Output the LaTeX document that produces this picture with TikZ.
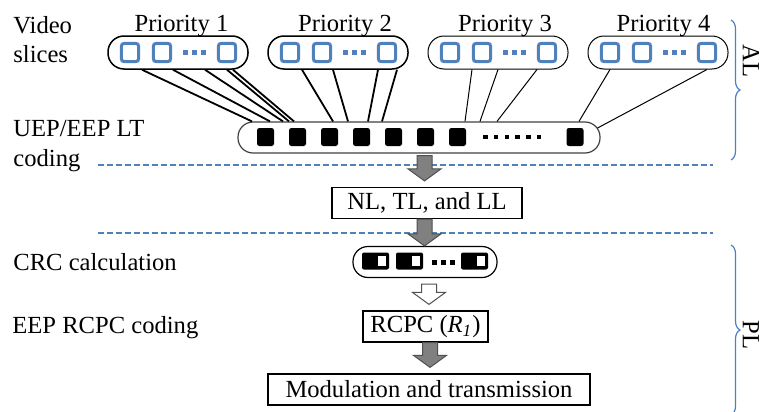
\documentclass[tikz,border=0pt]{standalone}
\usepackage{fontspec}
\setmainfont{Liberation Serif}
\usetikzlibrary{calc,decorations.pathreplacing}
\definecolor{sliceblue}{RGB}{79,129,189}
\definecolor{arrgray}{RGB}{128,128,128}
\definecolor{arrline}{RGB}{80,80,80}
\tikzset{
  group/.style={draw, rounded corners=8pt, minimum width=70pt, minimum height=16.5pt, inner sep=0pt},
  slice/.style={draw=sliceblue, line width=1.5pt, rounded corners=1.5pt, minimum width=8.7pt, minimum height=9.2pt, inner sep=0pt},
  slicedot/.style={fill=sliceblue, minimum size=2.5pt, inner sep=0pt},
  pkt/.style={fill=black, rounded corners=1.2pt, minimum width=8.5pt, minimum height=9pt, inner sep=0pt},
  pktdot/.style={fill=black, minimum size=2.2pt, inner sep=0pt},
  crcpkt/.style={fill=black, rounded corners=1pt, minimum width=13.5pt, minimum height=8.5pt, inner sep=0pt},
  crcbit/.style={fill=white, minimum width=4pt, minimum height=5pt, inner sep=0pt},
  box/.style={draw, line width=0.6pt, minimum height=15.5pt, inner sep=0pt},
  rbox/.style={draw, line width=0.6pt, rounded corners=7.5pt, minimum height=15.5pt, inner sep=0pt},
  conn/.style={line width=0.5pt},
  hiconn/.style={line width=0.9pt},
  layerline/.style={sliceblue, line width=0.75pt, dash pattern=on 3pt off 1.5pt},
  layerbrace/.style={sliceblue, line width=0.6pt, decorate, decoration={brace, amplitude=4.5pt}},
  lbl/.style={inner sep=0pt, align=left}
}
\newcommand{\barrow}[3][arrgray]{%
  \filldraw[fill=#1, draw=arrline, line width=0.5pt]
    ($(#2)+(-7.5,0)$) -- ($(#3)+(-7.5,-12)$) -- ($(#3)+(-16.5,-12)$) -- (#3)
    -- ($(#3)+(16.5,-12)$) -- ($(#3)+(7.5,-12)$) -- ($(#2)+(7.5,0)$) -- cycle;}
\begin{document}
\begin{tikzpicture}[x=0.5pt, y=-0.5pt, font=\fontsize{12.3}{14.75}\selectfont]
\useasboundingbox (0,0) rectangle (760,412);

\node[lbl, anchor=north west] (lvideo) at (13,16) {Video\\slices};
\node[lbl, anchor=north west] (luep) at (13,120) {UEP/EEP LT\\coding};
\node[lbl, anchor=base west] (lcrc) at (13,270) {CRC calculation};
\node[lbl, anchor=base west] (lrcpc) at (12,333) {EEP RCPC coding};

\foreach \g/\cx/\tx/\lw in {1/178/181.5/0.75pt, 2/338/345/0.75pt, 3/498/505/0.5pt, 4/658/663.5/0.5pt}{
  \node[anchor=base] (prio\g) at (\tx,32) {Priority \g};
  \node[group, line width=\lw] (g\g) at (\cx,52.5) {};
  \node[slice] (g\g-1) at ($(g\g.center)+(-48,0)$) {};
  \node[slice] (g\g-2) at ($(g\g.center)+(-16,0)$) {};
  \node[slice] (g\g-n) at ($(g\g.center)+(49,0)$) {};
  \foreach \d in {7,16,25}
    \node[slicedot] at ($(g\g.center)+(\d,0)$) {};
}

\node[rbox, draw=black!75, minimum width=181pt] (lt) at (419,137.5) {};
\foreach \k in {0,...,6}
  \node[pkt] (p\k) at (265.5+32*\k,137) {};
\foreach \k in {0,...,5}
  \node[pktdot] at (485.5+10.7*\k,137) {};
\node[pkt] (pn) at (575,137) {};

\foreach \a/\b in {142/252, 173/270, 205/283, 227/289, 233/294}
  \draw[hiconn] (g1.south -| \a,0) -- (lt.north -| \b,0);
\foreach \a/\b in {302/333, 333/348, 378/368, 397/382}
  \draw[hiconn] (g2.south -| \a,0) -- (lt.north -| \b,0);
\foreach \a/\b in {472/465, 498/480, 537/497}
  \draw[conn] (g3.south -| \a,0) -- (lt.north -| \b,0);
\draw[conn] (g4.south -| 610,0) -- (lt.north -| 579,0);
\draw[conn] (g4.south -| 707,0) -- ([xshift=-1.5pt]lt.3);

\draw[layerline] (98,165) -- (713,165);
\draw[layerline] (98,233) -- (713,233);

\node[box, minimum width=95pt] (nl) at (427,203) {NL, TL, and LL};

\node[rbox, minimum width=72pt] (crc) at (425,262) {};
\foreach \k/\cx in {1/375.5, 2/409.5, 3/474.5}{
  \node[crcpkt] (c\k) at (\cx,261) {};
  \node[crcbit] at ($(c\k.center)+(6.5,0)$) {};
}
\foreach \d in {434,443,452}
  \node[pktdot, minimum size=2.5pt] at (\d,262) {};

\node[box, minimum width=62.5pt] (rcpc) at (425.5,326.5) {RCPC (\textit{R}\textsubscript{\textit{1}})};
\node[box, minimum width=161pt] (mod) at (429,389.5) {Modulation and transmission};

\coordinate (a1s) at ($(lt.south -| 424.5,0)+(0,2)$);
\coordinate (a1e) at ($(nl.north -| 424.5,0)+(0,-6)$);
\coordinate (a2s) at (nl.south -| 424.5,0);
\coordinate (a2e) at (crc.north -| 424.5,0);
\coordinate (a3s) at ($(crc.south -| 429,0)+(0,6)$);
\coordinate (a3e) at ($(rcpc.north -| 429,0)+(0,-6)$);
\coordinate (a4s) at (rcpc.south -| 430,0);
\coordinate (a4e) at ($(mod.north -| 430,0)+(0,-6)$);
\barrow{a1s}{a1e}
\barrow{a2s}{a2e}
\barrow[white]{a3s}{a3e}
\barrow{a4s}{a4e}

\draw[layerbrace] (731,20) -- (731,160);
\draw[layerbrace] (731,245) -- (731,415);
\node[rotate=-90] (al) at (751,61) {AL};
\node[rotate=-90] (pl) at (751,335) {PL};
\end{tikzpicture}
\end{document}
